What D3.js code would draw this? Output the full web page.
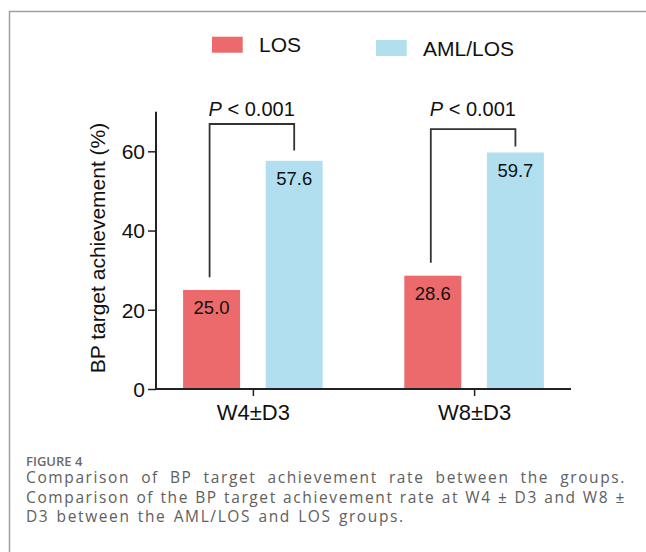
<!DOCTYPE html>
<html>
<head>
<meta charset="utf-8">
<script src="https://cdn.jsdelivr.net/npm/d3@7"></script>
<style>
  html, body { margin: 0; padding: 0; background: #fff; }
  svg { display: block; }
</style>
</head>
<body>
<svg id="chart" width="646" height="552"></svg>
<script>
// ---------- data ----------
const categories = ["W4±D3", "W8±D3"];
const seriesNames = ["LOS", "AML/LOS"];
const losValues = [25.0, 28.6];
const amlLosValues = [57.6, 59.7];
const valueLabels = [["25.0", "57.6"], ["28.6", "59.7"]];
const pLabels = ["P < 0.001", "P < 0.001"];
const bracketTop = [66.9, 65.6];
const bracketLeftEnd = [28.2, 31.9];
const bracketRightEnd = [60.2, 61.2];
const yTicks = [0, 20, 40, 60];
const yTitle = "BP target achievement (%)";
const figureLabel = "FIGURE 4";
const captionLines = [
  "Comparison of BP target achievement rate between the groups.",
  "Comparison of the BP target achievement rate at W4 ± D3 and W8 ±",
  "D3 between the AML/LOS and LOS groups."
];
const colors = ["#ec6a6b", "#b2dff0"];

// ---------- layout ----------
const svg = d3.select("#chart");
const FONT = "'Liberation Sans', Arial, Helvetica, sans-serif";

// frame
svg.append("line").attr("x1", 9).attr("x2", 646).attr("y1", 11.5).attr("y2", 11.5)
  .attr("stroke", "#a0a0a0").attr("stroke-width", 1.5);
svg.append("line").attr("x1", 9.5).attr("x2", 9.5).attr("y1", 11).attr("y2", 552)
  .attr("stroke", "#a0a0a0").attr("stroke-width", 1.5);

const y = d3.scaleLinear().domain([0, 70]).range([389, 111.7]);
const x = d3.scalePoint().domain(categories).range([156, 571]).padding(0.438);
const xs = d3.scaleBand().domain(seriesNames).range([-69.8, 69.8]).paddingInner(0.31).paddingOuter(0);

const values = [losValues, amlLosValues];

// bars
categories.forEach((c, ci) => {
  seriesNames.forEach((s, si) => {
    svg.append("rect")
      .attr("x", x(c) + xs(s))
      .attr("y", y(values[si][ci]))
      .attr("width", xs.bandwidth())
      .attr("height", y(0) - y(values[si][ci]))
      .attr("fill", colors[si]);
    svg.append("text")
      .attr("x", x(c) + xs(s) + xs.bandwidth() / 2)
      .attr("y", y(values[si][ci]) + 24)
      .attr("text-anchor", "middle")
      .attr("font-family", FONT).attr("font-size", 18.5)
      .attr("fill", "#111")
      .text(valueLabels[ci][si]);
  });
});

// y axis
const yAxis = d3.axisLeft(y).tickValues(yTicks).tickSize(8).tickPadding(3).tickFormat(d3.format("d"));
const gy = svg.append("g").attr("transform", "translate(156,0)").call(yAxis);
gy.select(".domain").attr("d", `M0,${y(70)}V${y(0)}`).attr("stroke", "#222").attr("stroke-width", 2);
gy.selectAll(".tick line").attr("stroke", "#222").attr("stroke-width", 1.5);
gy.selectAll(".tick text").attr("font-family", FONT).attr("font-size", 21).attr("fill", "#111").attr("dy", "0.35em");

// x axis
const xAxis = d3.axisBottom(x).tickSize(7).tickSizeOuter(0);
const gx = svg.append("g").attr("transform", `translate(0,${y(0)})`).call(xAxis);
gx.select(".domain").attr("d", `M155,0H571`).attr("stroke", "#222").attr("stroke-width", 2);
gx.selectAll(".tick line").attr("stroke", "#222").attr("stroke-width", 1.5);
gx.selectAll(".tick text").attr("font-family", FONT).attr("font-size", 22).attr("fill", "#111")
  .attr("y", 31).attr("dy", 0);

// y title
svg.append("text")
  .attr("transform", "translate(105,248) rotate(-90)")
  .attr("text-anchor", "middle")
  .attr("font-family", FONT).attr("font-size", 21).attr("fill", "#111")
  .text(yTitle);

// brackets
categories.forEach((c, ci) => {
  const xl = x(c) + xs("LOS") + xs.bandwidth() / 2 - 2;
  const xr = x(c) + xs("AML/LOS") + xs.bandwidth() / 2;
  svg.append("path")
    .attr("d", `M${xl},${y(bracketLeftEnd[ci])}V${y(bracketTop[ci])}H${xr}V${y(bracketRightEnd[ci])}`)
    .attr("fill", "none").attr("stroke", "#333").attr("stroke-width", 1.8);
  const t = svg.append("text")
    .attr("x", xl - 1).attr("y", 115.7)
    .attr("font-family", FONT).attr("font-size", 20).attr("fill", "#111");
  t.append("tspan").attr("font-style", "italic").text(pLabels[ci].slice(0, 1));
  t.append("tspan").text(pLabels[ci].slice(1));
});

// legend
const legendX = [212, 376];
const legendY = [36.7, 40];
seriesNames.forEach((s, si) => {
  svg.append("rect").attr("x", legendX[si]).attr("y", legendY[si])
    .attr("width", 30.7).attr("height", 16).attr("fill", colors[si]);
  svg.append("text").attr("x", legendX[si] + 47).attr("y", legendY[si] + 15.7)
    .attr("font-family", FONT).attr("font-size", 21).attr("fill", "#111").text(s);
});

// caption
const CAP_FONT = "'Open Sans', 'Noto Sans', sans-serif";
const CAP_SIZE = 15.5;
svg.append("text").attr("x", 26).attr("y", 466)
  .attr("font-family", CAP_FONT).attr("font-size", 13).attr("font-weight", 600)
  .attr("fill", "#6a6a6a").text(figureLabel);

const capLeft = 26, capRight = 626;
const capBase = [483, 502.5, 522];
// letter spacing so the last (left-aligned) line spans its reference width (~369px)
const probe = svg.append("text").attr("font-family", CAP_FONT).attr("font-size", CAP_SIZE)
  .text(captionLines[2]);
const probeW = probe.node().getComputedTextLength();
probe.remove();
const LS = Math.max(0, (369 - probeW) / captionLines[2].length);

captionLines.forEach((line, li) => {
  const words = line.split(" ");
  const t = svg.append("text")
    .attr("font-family", CAP_FONT).attr("font-size", CAP_SIZE).attr("fill", "#606060")
    .attr("letter-spacing", LS)
    .attr("y", capBase[li]);
  const spans = words.map(w => t.append("tspan").text(w));
  const widths = spans.map(s => s.node().getComputedTextLength());
  const total = d3.sum(widths);
  let gap;
  if (li < captionLines.length - 1) {
    gap = (capRight - capLeft - total) / (words.length - 1);
  } else {
    gap = CAP_SIZE * 0.26 + LS * 2;
  }
  let cx = capLeft;
  spans.forEach((s, i) => { s.attr("x", cx); cx += widths[i] + gap; });
});
</script>
</body>
</html>
